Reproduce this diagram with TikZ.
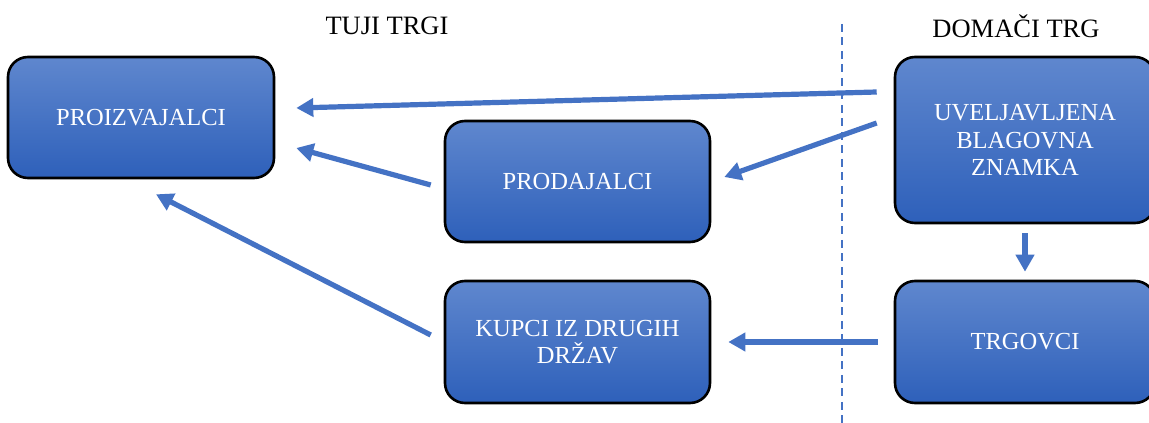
\documentclass[tikz,border=0pt]{standalone}
\usepackage{fontspec}
\setmainfont{Liberation Serif}
\usetikzlibrary{arrows.meta}

\definecolor{linkblue}{HTML}{4472C4}
\definecolor{boxtop}{HTML}{5F87CE}
\definecolor{boxbot}{HTML}{2E60BA}

\tikzset{
  box/.style={draw=black, line width=2.6pt, rounded corners=20pt,
    top color=boxtop, bottom color=boxbot, text=white, align=center,
    inner sep=0pt, font=\fontsize{24.5}{27.5}\selectfont},
  arr/.style={->, linkblue, line width=5.2pt},
  title/.style={font=\fontsize{26.5}{29}\selectfont}
}

\begin{document}
\begin{tikzpicture}[>={Triangle[length=17pt,width=18pt]}, x=1pt, y=1pt]

\useasboundingbox (0,0) rectangle (1149,423);

% market labels and border
\node[title] (tuji) at (387,397) {TUJI TRGI};
\node[title] (domaci) at (1016,397) {DOMAČI TRG};
\draw[linkblue, line width=2.5pt, dash pattern=on 8pt off 5.5pt] (842,399) -- (842,0);

% boxes
\node[box, minimum width=266pt, minimum height=121pt] (proizv) at (141,305.5) {PROIZVAJALCI};
\node[box, minimum width=265pt, minimum height=121pt] (prodaj) at (577.5,241.5) {PRODAJALCI};
\node[box, minimum width=265pt, minimum height=122pt] (kupci) at (577.5,81) {KUPCI IZ DRUGIH\\DRŽAV};
\node[box, minimum width=260pt, minimum height=166pt] (znamka) at (1025,283) {UVELJAVLJENA\\BLAGOVNA\\ZNAMKA};
\node[box, minimum width=260pt, minimum height=122pt] (trgovci) at (1025,81) {TRGOVCI};

% arrows
\draw[arr] ([xshift=-17pt, yshift=48pt]znamka.west) -- ([xshift=21pt, yshift=9.5pt]proizv.east);
\draw[arr] ([xshift=-17pt, yshift=17pt]znamka.west) -- ([xshift=13pt, yshift=4.5pt]prodaj.east);
\draw[arr] ([xshift=-13pt, yshift=-3.5pt]prodaj.west) -- ([xshift=21pt, yshift=-30.5pt]proizv.east);
\draw[arr] ([xshift=-13pt, yshift=7pt]kupci.west) -- ([xshift=15pt, yshift=-15pt]proizv.south);
\draw[arr] ([yshift=-9pt]znamka.south) -- ([yshift=8pt]trgovci.north);
\draw[arr] ([xshift=-16pt]trgovci.west) -- ([xshift=17pt]kupci.east);

\end{tikzpicture}
\end{document}
